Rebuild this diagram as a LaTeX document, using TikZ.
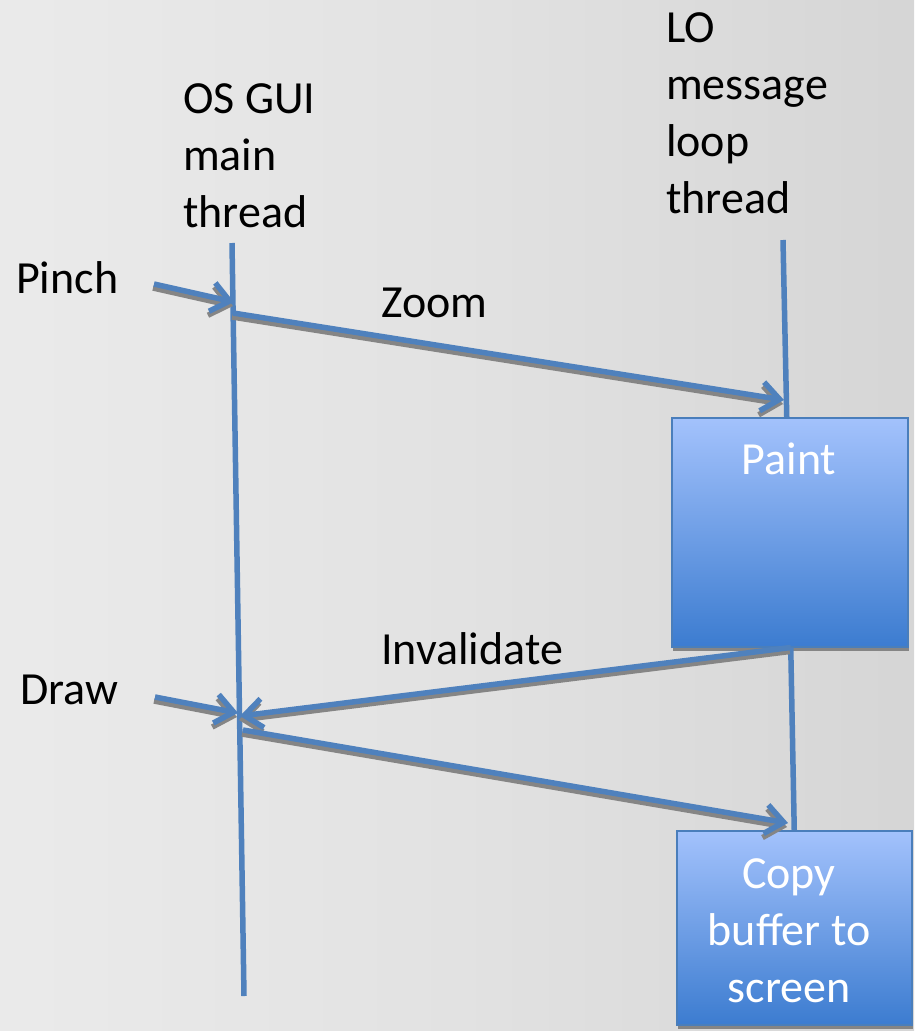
\documentclass[tikz,border=0pt]{standalone}
\usepackage{fontspec}
\setmainfont{Carlito}
\usetikzlibrary{arrows.meta,calc,shadows}
\definecolor{lineblue}{HTML}{4F81BD}
\definecolor{shadowgray}{HTML}{858585}
\definecolor{boxtop}{HTML}{A3C2FC}
\definecolor{boxbot}{HTML}{3C7CD0}
\definecolor{boxborder}{HTML}{4A7EBB}
\definecolor{bgl}{HTML}{F3F3F3}
\definecolor{bgm}{HTML}{E2E2E2}
\definecolor{bgr}{HTML}{C9C9C9}
\pgfdeclarehorizontalshading{bgshade}{100bp}{color(0bp)=(bgl); color(50bp)=(bgm); color(100bp)=(bgr)}
\newcommand\msgline[2]{\draw[msgshadow] (#1) -- (#2); \draw[msg] (#1) -- (#2);}
\begin{document}
\begin{tikzpicture}[x=1pt,y=-1pt,
  lbl/.style={font=\fontsize{46}{57}\selectfont, inner sep=0pt, align=left, anchor=base west},
  wlbl/.style={font=\fontsize{46}{57}\selectfont, text=white, inner sep=0pt, align=center, anchor=base},
  tipstyle/.style={-{Straight Barb[length=18pt,width=29pt]}},
  msg/.style={draw=lineblue, line width=5.5pt, tipstyle},
  msgshadow/.style={draw=shadowgray, line width=5.5pt, tipstyle, transform canvas={shift={(-1pt,-4pt)}}},
  life/.style={draw=lineblue, line width=5.5pt},
  procbox/.style={draw=boxborder, line width=1.5pt, top color=boxtop, bottom color=boxbot, inner sep=0pt,
    drop shadow={shadow xshift=1pt, shadow yshift=-4pt, fill=shadowgray, opacity=1}}
]
\path[shading=bgshade] (0,0) rectangle (914,1031);
\useasboundingbox (0,0) rectangle (914,1031);

% labels (base anchor = baseline of the last line)
\node[lbl] (osl) at (183,227) {OS GUI\\main\\thread};
\node[lbl] (lol) at (666,213) {LO\\message\\loop\\thread};
\node[lbl] (pinchl) at (16,293) {Pinch};
\node[lbl] (drawl) at (20,704) {Draw};
\node[lbl] (zooml) at (381,317) {Zoom};
\node[lbl] (invl) at (381,664) {Invalidate};

% boxes
\node[procbox, minimum width=236pt, minimum height=229pt, anchor=north west] (paint) at (671,417) {};
\node[wlbl] (paintl) at (789,474) {Paint};
\node[procbox, minimum width=235pt, minimum height=194pt, anchor=north west] (copy) at (676,830) {};
\node[wlbl] (copyl) at (789,1002) {Copy\\buffer to\\screen};

% coordinates
\coordinate (osTop) at (232,243);
\coordinate (osBot) at (244,996);
\coordinate (loTop) at (783,240);
\coordinate (paintIn) at ($(paint.north)+(-3,0)$);
\coordinate (paintOut) at ($(paint.south)+(1,0)$);
\coordinate (pinchS) at (154,284);
\coordinate (pinchT) at (234,302);
\coordinate (zoomS) at (233,313);
\coordinate (zoomT) at (784,400);
\coordinate (invT) at (240,716);
\coordinate (drawS) at (155,697);
\coordinate (drawT) at (238,713);
\coordinate (cpS) at (243,730);
\coordinate (cpT) at (788,823);

% lifelines
\draw[life] (osTop) -- (osBot);
\draw[life] (loTop) -- (paintIn);
\draw[life] (paintOut) -- (copy.north);

% messages
\msgline{pinchS}{pinchT}
\msgline{zoomS}{zoomT}
\msgline{paintOut}{invT}
\msgline{drawS}{drawT}
\msgline{cpS}{cpT}
\end{tikzpicture}
\end{document}
